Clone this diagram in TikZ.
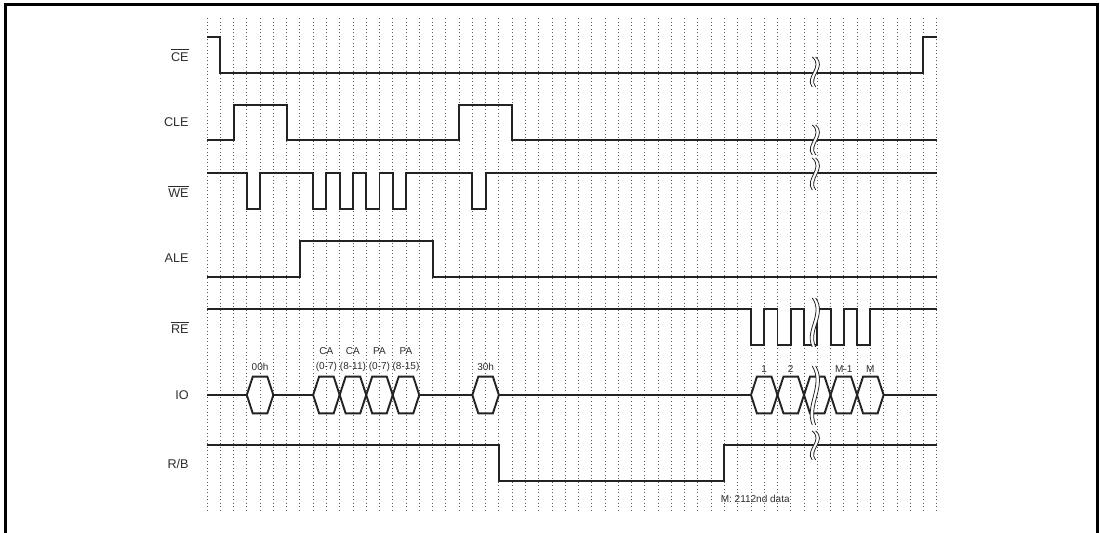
\documentclass[tikz,border=0pt]{standalone}
\usepackage{fontspec}
\setmainfont{Liberation Sans}
\usepackage{tikz}
\usetikzlibrary{positioning}
\definecolor{GridGray}{RGB}{90,90,90}
\definecolor{TraceBlack}{RGB}{35,35,35}
\definecolor{LabelGray}{RGB}{45,45,45}

\newcommand{\wavecut}[3]{%
	\pgfmathsetmacro\cutya{#2+(#3-#2)/3}%
	\pgfmathsetmacro\cutyb{#2+2*(#3-#2)/3}%
	\fill[white] (#1-0.13,#2) .. controls (#1+0.75,\cutya) and (#1-0.75,\cutyb) .. (#1-0.13,#3)
		-- (#1+0.13,#3) .. controls (#1-0.49,\cutyb) and (#1+1.01,\cutya) .. (#1+0.13,#2) -- cycle;
	\draw[cutline] (#1-0.13,#2) .. controls (#1+0.75,\cutya) and (#1-0.75,\cutyb) .. (#1-0.13,#3);
	\draw[cutline] (#1+0.13,#2) .. controls (#1+1.01,\cutya) and (#1-0.49,\cutyb) .. (#1+0.13,#3);
}

\begin{document}
\begin{tikzpicture}[x=0.02cm, y=-0.02cm,
		sig/.style={anchor=east, inner sep=0pt, LabelGray, font=\fontsize{7.2}{8}\selectfont},
		dat/.style={inner sep=0pt, align=center, LabelGray, font=\fontsize{5.7}{8.5}\selectfont},
		grid/.style={GridGray, line width=0.45pt, dash pattern=on 0.55pt off 1.45pt},
		trace/.style={TraceBlack, line width=1.1pt},
		cutline/.style={TraceBlack, line width=0.45pt}]
	\useasboundingbox (0,0) rectangle (1100,533);
	\draw[line width=1.7pt] (5.3,533) -- (5.3,4.8) -- (1097.3,4.8) -- (1097.3,533);
	\node[sig] (ce) at (189,55) {$\overline{\mbox{CE}}$};
	\node[sig] (cle) at (189,122) {CLE};
	\node[sig] (we) at (189,191) {$\overline{\mbox{WE}}$};
	\node[sig] (ale) at (189,258) {ALE};
	\node[sig] (re) at (189,327) {$\overline{\mbox{RE}}$};
	\node[sig] (io) at (189,395.5) {IO};
	\node[sig] (rb) at (189,463.5) {R/B};
	\begin{scope}[shift={(207,0)}, x=0.2654cm]
		\foreach \i in {0,...,55}
			\draw[grid] (\i,18) -- (\i,513);
		\draw[trace] (0,37) -| (1,73) -- (54,73) |- (55,37);
		\draw[trace] (0,140) -| (2,105) -| (6,140) -| (19,105) -| (23,140) -- (55,140);
		\draw[trace] (0,173) \foreach \a in {3,8,10,12,14,20} { -| (\a,209) -| (\a+1,173) } -- (55,173);
		\draw[trace] (0,276.7) -| (7,240.7) -| (17,276.7) -- (55,276.7);
		\draw[trace] (0,309.3) \foreach \a in {41,43,45,47,49} { -| (\a,345) -| (\a+1,309.3) } -- (55,309.3);
		\draw[trace] (0,395) -- (3,395) (5,395) -- (8,395) (16,395) -- (20,395)
			(22,395) -- (41,395) (51,395) -- (55,395);
		\foreach \a in {3,8,10,12,14,20,41,43,45,47,49}
			\draw[trace, line join=miter] (\a,395) -- (\a+0.45,376.7) -- (\a+1.55,376.7) -- (\a+2,395)
				-- (\a+1.55,413.3) -- (\a+0.45,413.3) -- cycle;
		\draw[trace] (0,445) -| (22,481) -| (39,445) -- (55,445);
		\wavecut{45.75}{57}{87}
		\wavecut{45.75}{125}{155}
		\wavecut{45.75}{158}{190}
		\wavecut{45.75}{298}{347}
		\wavecut{45.75}{366}{425}
		\wavecut{45.75}{431}{460}
		\node[dat] (h00) at (4,367) {00h};
		\node[dat] (ca1) at (9,359.5) {CA\\(0-7)};
		\node[dat] (ca2) at (11,359.5) {CA\\(8-11)};
		\node[dat] (pa1) at (13,359.5) {PA\\(0-7)};
		\node[dat] (pa2) at (15,359.5) {PA\\(8-15)};
		\node[dat] (h30) at (21,367) {30h};
		\node[dat] (d1) at (42,369) {1};
		\node[dat] (d2) at (44,369) {2};
		\node[dat] (dm1) at (48,369) {M-1};
		\node[dat] (dm) at (50,369) {M};
		\node[dat, anchor=west] (note) at (38.7,499) {M: 2112nd data};
	\end{scope}
\end{tikzpicture}
\end{document}
